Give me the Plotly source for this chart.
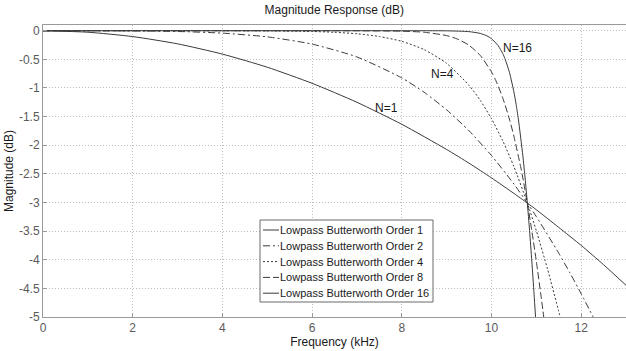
import plotly.graph_objects as go

# Frequency (kHz) and magnitude (dB) samples for each Butterworth order
freq_n1 = [0, 1, 2, 3, 4, 5, 6, 7, 8, 9, 9.5, 10, 10.5, 10.8, 11, 11.5, 12, 12.5, 13]
mag_n1 = [0, -0.026, -0.102, -0.229, -0.408, -0.637, -0.918, -1.250, -1.634, -2.074,
          -2.314, -2.570, -2.841, -3.010, -3.127, -3.435, -3.749, -4.087, -4.446]

freq_n2 = [0, 1, 2, 3, 4, 5, 6, 7, 8, 8.5, 9, 9.5, 10, 10.5, 10.8, 11, 11.5, 11.75, 12, 12.268]
mag_n2 = [0, -0.000, -0.002, -0.013, -0.042, -0.107, -0.234, -0.458, -0.824, -1.075,
          -1.382, -1.748, -2.179, -2.677, -3.010, -3.246, -3.885, -4.230, -4.593, -5.0]

freq_n4 = [0, 2, 4, 5, 6, 6.5, 7, 7.5, 8, 8.5, 9, 9.5, 9.75, 10, 10.25, 10.5, 10.8, 11, 11.25, 11.5, 11.534]
mag_n4 = [0, 0, -0.000, -0.003, -0.013, -0.027, -0.053, -0.101, -0.185, -0.330, -0.570,
          -0.954, -1.216, -1.536, -1.920, -2.372, -3.010, -3.493, -4.163, -4.901, -5.0]

freq_n8 = [0, 6, 7, 8, 8.5, 9, 9.25, 9.5, 9.75, 10, 10.1, 10.25, 10.4, 10.5, 10.65,
           10.7, 10.8, 10.9, 11, 11.1, 11.166]
mag_n8 = [0, 0, -0.001, -0.008, -0.027, -0.085, -0.148, -0.254, -0.432, -0.719, -0.875,
          -1.169, -1.542, -1.841, -2.373, -2.573, -3.010, -3.494, -4.024, -4.601, -5.0]

freq_n16 = [0, 8, 9, 9.5, 9.75, 9.9, 10, 10.15, 10.25, 10.3, 10.4, 10.5, 10.55, 10.6,
            10.7, 10.75, 10.8, 10.85, 10.9, 10.95, 10.983]
mag_n16 = [0, 0, -0.002, -0.016, -0.047, -0.090, -0.139, -0.262, -0.396, -0.486, -0.725,
           -1.068, -1.288, -1.544, -2.185, -2.572, -3.010, -3.492, -4.025, -4.603, -5.0]

series = [
    ("Lowpass Butterworth Order 1", freq_n1, mag_n1, "solid"),
    ("Lowpass Butterworth Order 2", freq_n2, mag_n2, "7px,3px,2px,3px"),
    ("Lowpass Butterworth Order 4", freq_n4, mag_n4, "2px,2px"),
    ("Lowpass Butterworth Order 8", freq_n8, mag_n8, "7px,3px"),
    ("Lowpass Butterworth Order 16", freq_n16, mag_n16, "solid"),
]

# Curve labels: (text, frequency, magnitude)
curve_labels = [("N=16", 10.59, -0.30), ("N=4", 8.91, -0.75), ("N=1", 7.67, -1.35)]

x_ticks = [0, 2, 4, 6, 8, 10, 12]
y_ticks = [0, -0.5, -1, -1.5, -2, -2.5, -3, -3.5, -4, -4.5, -5]
y_tick_text = ["0", "-0.5", "-1", "-1.5", "-2", "-2.5", "-3", "-3.5", "-4", "-4.5", "-5"]

FONT = "Liberation Sans, Arial, sans-serif"
LINE = "#3a3a3a"
GRID = "#bdbdbd"
FRAME = "#9a9a9a"
TICKTXT = "#5a5a5a"

# Figure / plot-area geometry in pixels
W, H = 626, 351
ML, MR, MT, MB = 43, 0, 25, 34
PW, PH = W - ML - MR, H - MT - MB


def px_x(px):
    return (px - ML) / PW


def px_y(py):
    return (H - MB - py) / PH


fig = go.Figure()
for name, fx, my, dash in series:
    fig.add_trace(go.Scatter(
        x=fx, y=my, name=name, mode="lines", showlegend=False,
        line=dict(color=LINE, width=1, dash=dash, shape="spline", smoothing=0.6),
    ))

for text, fx, my in curve_labels:
    fig.add_annotation(x=fx, y=my, text=text, showarrow=False,
                       font=dict(family=FONT, size=12, color="#1a1a1a"))

# Boxed legend in the lower middle of the axes
LEG_LEFT, LEG_RIGHT, LEG_TOP, LEG_BOTTOM = 260, 433, 220, 302
ROW_TOP, ROW_STEP = 230, 15.8
fig.add_shape(type="rect", xref="paper", yref="paper",
              x0=px_x(LEG_LEFT), x1=px_x(LEG_RIGHT),
              y0=px_y(LEG_BOTTOM), y1=px_y(LEG_TOP),
              fillcolor="white", line=dict(color="#6a6a6a", width=1), layer="above")
for i, (name, _, _, dash) in enumerate(series):
    row_y = px_y(ROW_TOP + i * ROW_STEP)
    fig.add_shape(type="line", xref="paper", yref="paper",
                  x0=px_x(LEG_LEFT + 3), x1=px_x(LEG_LEFT + 19), y0=row_y, y1=row_y,
                  line=dict(color=LINE, width=1, dash=dash), layer="above")
    fig.add_annotation(xref="paper", yref="paper", x=px_x(LEG_LEFT + 18), y=row_y,
                       xanchor="left", yanchor="middle", text=name, showarrow=False,
                       font=dict(family=FONT, size=11, color="#1a1a1a"))

fig.update_layout(
    width=W, height=H,
    margin=dict(l=ML, r=MR, t=MT, b=MB),
    paper_bgcolor="white", plot_bgcolor="white",
    font=dict(family=FONT, size=12, color="#1a1a1a"),
    title=dict(text="Magnitude Response (dB)", x=0.534, xanchor="center",
               y=1 - 10 / H, yanchor="middle",
               font=dict(family=FONT, size=12, color="#1a1a1a")),
    showlegend=False,
)

fig.update_xaxes(
    range=[0, 13], tickvals=x_ticks, ticks="inside", ticklen=4, tickcolor=FRAME,
    tickfont=dict(family=FONT, size=12, color=TICKTXT),
    showgrid=True, gridcolor=GRID, griddash="1px,2px", gridwidth=1,
    showline=True, linecolor=FRAME, linewidth=1, mirror=True, zeroline=False,
    title=dict(text="Frequency (kHz)", standoff=0,
               font=dict(family=FONT, size=12, color="#1a1a1a")),
)
fig.update_yaxes(
    range=[-5, 0.1], tickvals=y_ticks, ticktext=y_tick_text, ticks="inside",
    ticklen=4, tickcolor=FRAME,
    tickfont=dict(family=FONT, size=12, color=TICKTXT),
    showgrid=True, gridcolor=GRID, griddash="1px,2px", gridwidth=1,
    showline=True, linecolor=FRAME, linewidth=1, mirror=True, zeroline=False,
    title=dict(text="Magnitude (dB)", standoff=2,
               font=dict(family=FONT, size=12, color="#1a1a1a")),
)

fig.write_html("out.html")
